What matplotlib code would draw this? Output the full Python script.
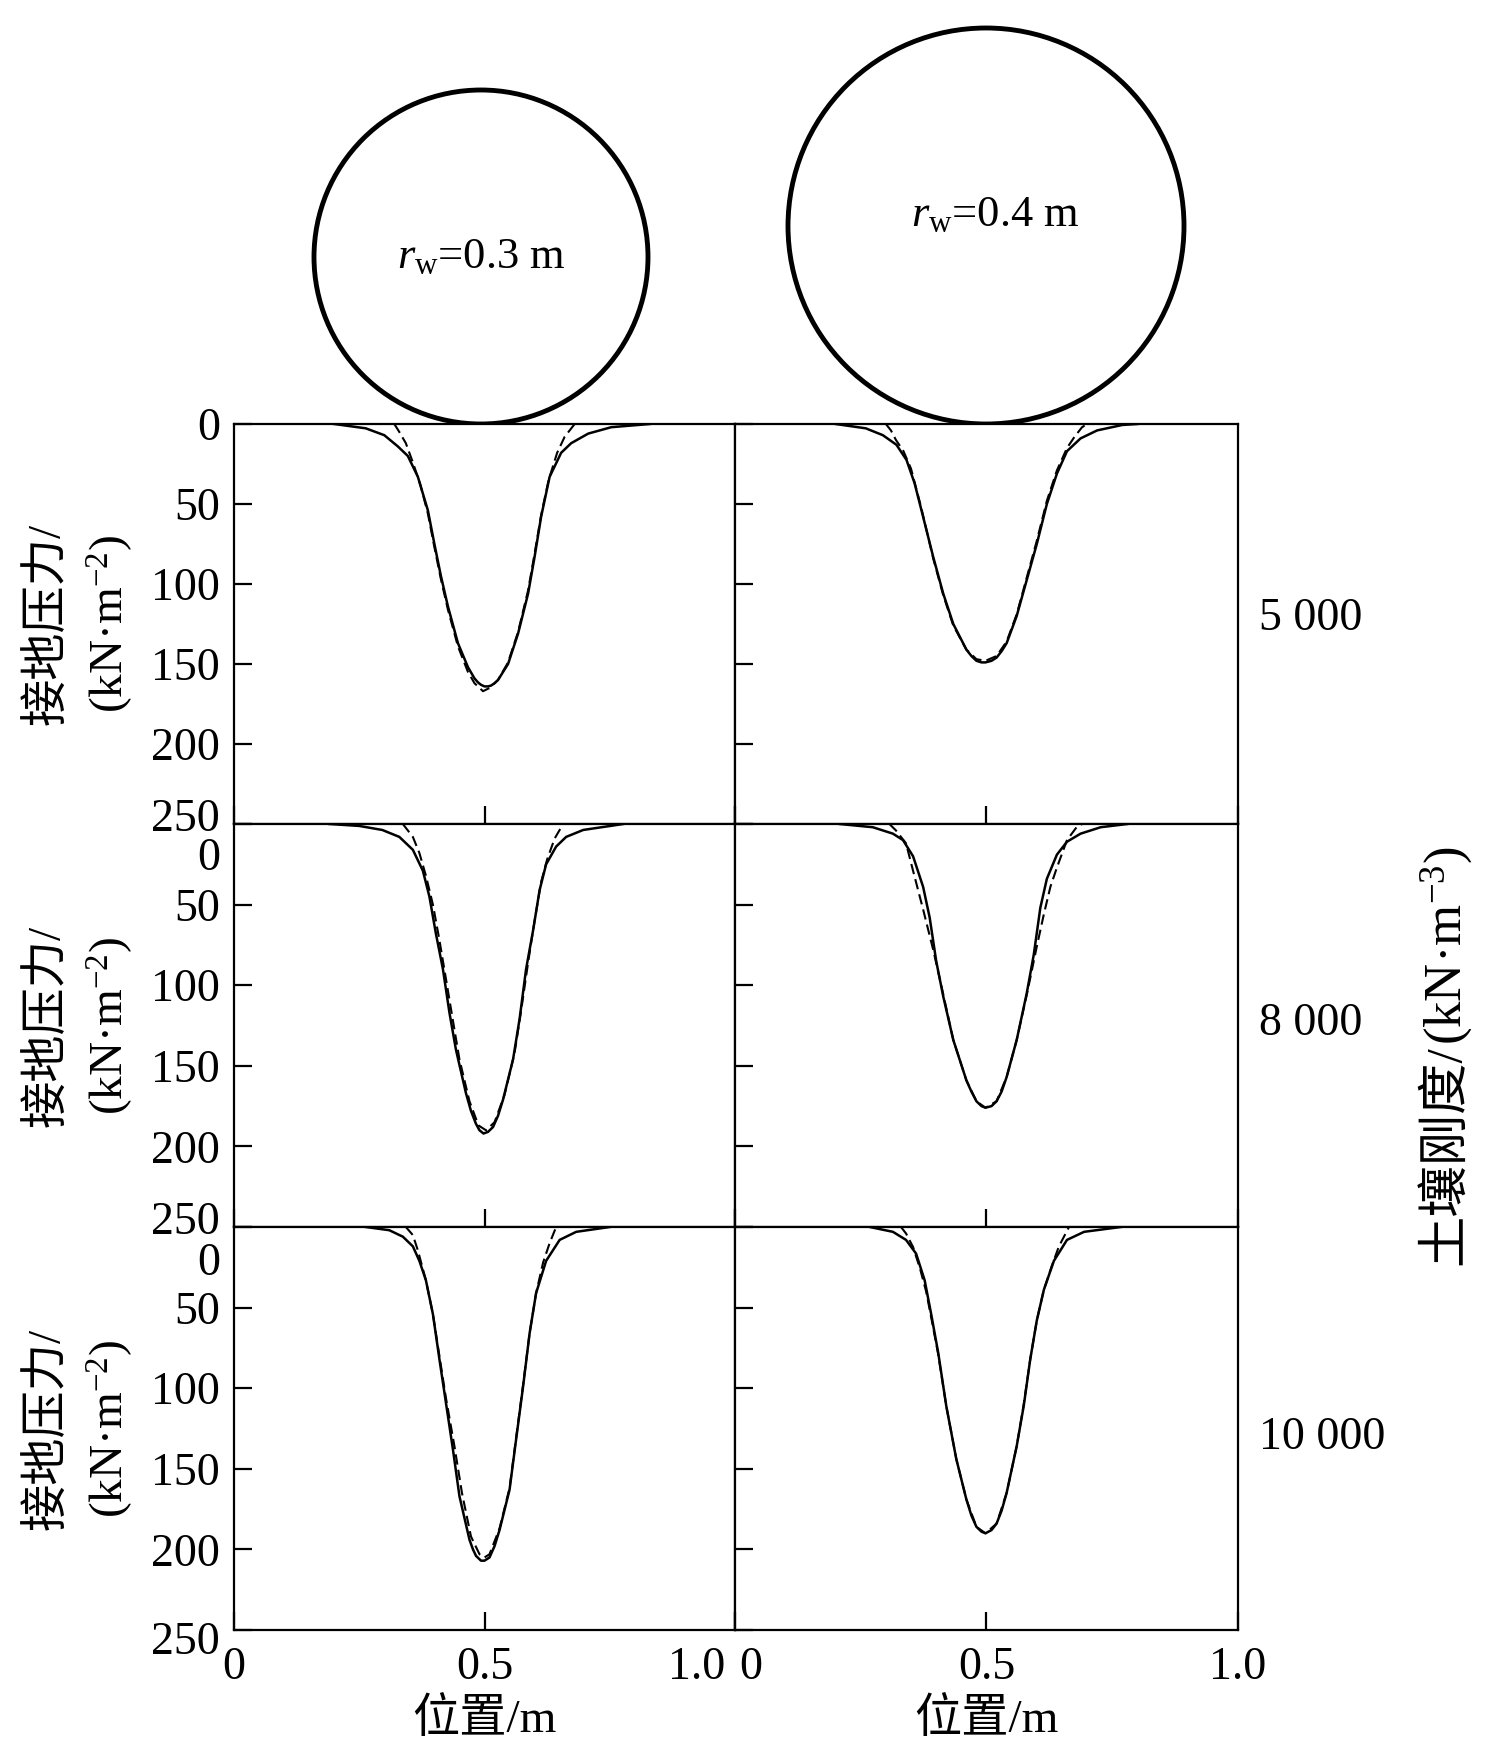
import matplotlib
matplotlib.use('Agg')
import matplotlib.pyplot as plt
from matplotlib.patches import Circle
from matplotlib.transforms import ScaledTranslation

# ---- data (position in m, contact pressure in kN/m^2) ----
wheel_radius = [0.3, 0.4]
stiffness_labels = ['5 000', '8 000', '10 000']
y_ticks = [0, 50, 100, 150, 200, 250]
x_ticks = [0, 0.5, 1.0]

# k = 5 000, r = 0.3
k5000_r03_x = [0.20, 0.263, 0.30, 0.327, 0.347, 0.367, 0.387, 0.40, 0.413, 0.427, 0.447, 0.467, 0.48, 0.487, 0.493,
               0.50, 0.507, 0.513, 0.52, 0.527, 0.547, 0.567, 0.587, 0.60, 0.613, 0.63, 0.653, 0.673, 0.707, 0.753, 0.83]
k5000_r03_solid = [0, 2.7, 7, 14, 20, 33, 54, 75, 95, 114, 137, 152, 159, 161.5, 163,
                   164, 164, 163.5, 162, 160, 150, 131, 106, 83, 58, 33, 18, 12, 6, 2, 0]
k5000_r03_dx = [0.32, 0.33, 0.343, 0.357, 0.372, 0.387, 0.40, 0.413, 0.427, 0.447, 0.467, 0.48, 0.497,
                0.51, 0.527, 0.547, 0.567, 0.587, 0.60, 0.613, 0.628, 0.645, 0.66, 0.68]
k5000_r03_dashed = [0, 5, 12, 24, 38, 56, 77, 97, 116, 139, 155, 162, 167,
                    165, 160, 149, 130, 104, 81, 57, 35, 18, 8, 0]

# k = 5 000, r = 0.4
k5000_r04_x = [0.20, 0.26, 0.294, 0.321, 0.341, 0.357, 0.374, 0.394, 0.414, 0.434, 0.46, 0.47, 0.48, 0.49, 0.498,
               0.51, 0.52, 0.53, 0.54, 0.56, 0.58, 0.60, 0.62, 0.64, 0.66, 0.687, 0.72, 0.77, 0.80]
k5000_r04_solid = [0, 2.7, 7, 13, 22.5, 37, 58, 83, 106, 125, 141, 145, 148, 149, 149,
                   148, 146, 142, 137, 120, 97.5, 75, 50, 31, 17, 9, 4, 0.6, 0]
k5000_r04_dx = [0.30, 0.31, 0.32, 0.335, 0.35, 0.37, 0.394, 0.414, 0.434, 0.46, 0.48, 0.498,
                0.52, 0.54, 0.56, 0.58, 0.60, 0.62, 0.64, 0.66, 0.675, 0.69, 0.70]
k5000_r04_dashed = [0, 4, 10, 17, 28, 52, 84, 107, 126, 141, 147, 148,
                    145, 136, 119, 96, 73, 48, 29, 15, 8, 2, 0]

# k = 8 000, r = 0.3
k8000_r03_x = [0.19, 0.25, 0.296, 0.33, 0.357, 0.377, 0.39, 0.403, 0.417, 0.43, 0.443, 0.463, 0.473, 0.483, 0.49,
               0.498, 0.507, 0.517, 0.527, 0.537, 0.557, 0.57, 0.583, 0.597, 0.61, 0.623, 0.643, 0.663, 0.697, 0.777]
k8000_r03_solid = [0, 1.2, 3.7, 8, 16, 29, 45, 68, 90, 117, 140, 167, 178, 186, 190,
                   192, 191, 188, 181, 171, 146, 121, 90, 66, 41, 25, 14, 8, 3.7, 0]
k8000_r03_dx = [0.337, 0.357, 0.37, 0.383, 0.397, 0.41, 0.423, 0.437, 0.45, 0.47, 0.488, 0.503,
                0.52, 0.54, 0.56, 0.573, 0.587, 0.60, 0.613, 0.625, 0.64, 0.657]
k8000_r03_dashed = [0, 8, 18, 32, 50, 72, 96, 122, 146, 172, 187, 190,
                    185, 168, 142, 116, 86, 60, 36, 22, 9, 0]

# k = 8 000, r = 0.4
k8000_r04_x = [0.208, 0.274, 0.314, 0.334, 0.354, 0.374, 0.387, 0.40, 0.414, 0.434, 0.46, 0.47, 0.48, 0.49, 0.498,
               0.51, 0.52, 0.53, 0.54, 0.56, 0.58, 0.594, 0.607, 0.62, 0.64, 0.66, 0.687, 0.727, 0.78]
k8000_r04_solid = [0, 2, 6, 10, 20, 39, 58, 85, 107, 134, 159, 166, 172, 175, 176,
                   175, 172, 166, 157, 134, 105, 81, 52, 34, 19, 11, 6, 2, 0]
k8000_r04_dx = [0.307, 0.32, 0.34, 0.354, 0.374, 0.394, 0.41, 0.434, 0.46, 0.48, 0.498,
                0.52, 0.54, 0.56, 0.58, 0.60, 0.614, 0.627, 0.64, 0.66, 0.68, 0.69]
k8000_r04_dashed = [0, 4, 12, 29, 53, 78, 100, 134, 159, 172, 176,
                    172, 157, 134, 106, 76, 56, 39, 27, 10, 1.6, 0]

# k = 10 000, r = 0.3
k10000_r03_x = [0.263, 0.31, 0.337, 0.357, 0.37, 0.383, 0.397, 0.41, 0.423, 0.437, 0.45, 0.47, 0.477, 0.483, 0.493,
                0.50, 0.51, 0.52, 0.53, 0.55, 0.563, 0.577, 0.59, 0.603, 0.623, 0.65, 0.683, 0.75]
k10000_r03_solid = [0, 2, 6, 12, 21, 33, 54, 82, 109, 138, 167, 194, 200, 204, 207,
                    207, 205, 198, 188, 163, 132, 99, 66, 41, 21, 8, 3, 0]
k10000_r03_dx = [0.343, 0.357, 0.367, 0.383, 0.397, 0.41, 0.423, 0.44, 0.455, 0.473, 0.49, 0.50,
                 0.51, 0.53, 0.55, 0.563, 0.577, 0.59, 0.603, 0.617, 0.63, 0.643]
k10000_r03_dashed = [0, 5, 14.5, 33, 54, 80, 106, 136, 165, 192, 203, 205,
                     203, 187, 162, 131, 98, 66, 41, 22, 10, 0]

# k = 10 000, r = 0.4
k10000_r04_x = [0.268, 0.314, 0.34, 0.36, 0.377, 0.39, 0.404, 0.42, 0.44, 0.46, 0.47, 0.48, 0.49, 0.498,
                0.51, 0.52, 0.53, 0.54, 0.56, 0.574, 0.587, 0.60, 0.614, 0.634, 0.66, 0.694, 0.767]
k10000_r04_solid = [0, 3, 8, 16.5, 33, 54, 78, 111, 144, 169, 179, 186, 189, 190,
                    188, 184, 176, 165, 136, 111, 82, 58, 39, 21, 8, 3, 0]
k10000_r04_dx = [0.33, 0.34, 0.354, 0.368, 0.38, 0.39, 0.404, 0.42, 0.44, 0.46, 0.48, 0.498,
                 0.52, 0.54, 0.56, 0.574, 0.587, 0.60, 0.614, 0.63, 0.644, 0.664]
k10000_r04_dashed = [0, 4, 12.4, 26, 40, 56, 79, 111, 144, 169, 186, 190,
                     184, 165, 136, 110, 82, 58, 39, 24, 12, 0]

panels = [
    [(k5000_r03_x, k5000_r03_solid, k5000_r03_dx, k5000_r03_dashed),
     (k5000_r04_x, k5000_r04_solid, k5000_r04_dx, k5000_r04_dashed)],
    [(k8000_r03_x, k8000_r03_solid, k8000_r03_dx, k8000_r03_dashed),
     (k8000_r04_x, k8000_r04_solid, k8000_r04_dx, k8000_r04_dashed)],
    [(k10000_r03_x, k10000_r03_solid, k10000_r03_dx, k10000_r03_dashed),
     (k10000_r04_x, k10000_r04_solid, k10000_r04_dx, k10000_r04_dashed)],
]

# ---- style ----
plt.rcParams['font.family'] = ['Liberation Serif', 'Noto Sans CJK SC']
plt.rcParams['mathtext.fontset'] = 'custom'
plt.rcParams['mathtext.rm'] = 'Liberation Serif'
plt.rcParams['mathtext.it'] = 'Liberation Serif:italic'
plt.rcParams['axes.linewidth'] = 1.6

W, H = 1500, 1755
fig = plt.figure(figsize=(W / 100, H / 100), dpi=100)


def box(x0, y0, x1, y1):
    """pixel box (top-left origin) -> figure fraction rect"""
    return [x0 / W, 1 - y1 / H, (x1 - x0) / W, (y1 - y0) / H]


def shift(label, dx_px, dy_px):
    # dy_px > 0 moves the label up
    label.set_transform(label.get_transform() + ScaledTranslation(dx_px / 100, dy_px / 100, fig.dpi_scale_trans))


col_edges = [(234, 735), (735, 1238)]
row_edges = [(424, 824), (824, 1227), (1227, 1630)]
tick_fs = 33
label_fs = 34

# wheels above the columns
wheel_px = [167, 198]
wheel_cx = [0.493, 0.499]
wheel_text_pos = [(0.493, 0.333), (0.517, 0.416)]
for c, (x0, x1) in enumerate(col_edges):
    tax = fig.add_axes(box(x0, 0, x1, row_edges[0][0]))
    w = x1 - x0
    tax.set_xlim(0, 1)
    tax.set_ylim(0, row_edges[0][0] / w)
    tax.axis('off')
    r = wheel_px[c] / w
    tax.add_patch(Circle((wheel_cx[c], r), r, fill=False, lw=3.5, ec='black', clip_on=False))
    tx, ty = wheel_text_pos[c]
    tax.text(tx, ty, r'$r_{\mathrm{w}}$=%.1f m' % wheel_radius[c], ha='center', va='center', fontsize=32)

# per-label vertical nudges of the left tick labels (px, + = up)
ylabel_nudge = [{250: 9}, {0: -30, 250: 9}, {0: -32, 250: -8}]
stiff_y = [0.512, 0.504, 0.476]

for r, (y0, y1) in enumerate(row_edges):
    for c, (x0, x1) in enumerate(col_edges):
        ax = fig.add_axes(box(x0, y0, x1, y1))
        xs, ys, dxs, dys = panels[r][c]
        ax.plot(xs, ys, color='black', lw=1.8, solid_joinstyle='round')
        ax.plot(dxs, dys, color='black', lw=1.5, ls=(0, (5, 2.5)))
        ax.set_xlim(0, 1)
        ax.set_ylim(250, 0)
        ax.tick_params(direction='in', length=13, width=1.6, top=False, right=False,
                       labelsize=tick_fs, labelleft=(c == 0), labelbottom=(r == 2))
        ax.tick_params(axis='y', pad=10)
        ax.tick_params(axis='x', pad=12)
        ax.set_yticks(y_ticks)
        ax.set_xticks(x_ticks)
        if c == 0:
            ax.set_yticklabels([str(v) for v in y_ticks])
            for lab, v in zip(ax.get_yticklabels(), y_ticks):
                if v in ylabel_nudge[r]:
                    shift(lab, 0, ylabel_nudge[r][v])
        if r == 2:
            ax.set_xticklabels(['0', '0.5', '1.0'])
            labs = ax.get_xticklabels()
            if c == 0:
                labs[2].set_ha('right')
                shift(labs[2], -10, 0)
            else:
                labs[0].set_ha('left')
                shift(labs[0], 4, 0)
            ax.set_xlabel('位置/m', fontsize=label_fs, labelpad=6)
        if c == 1:
            ax.text(1.042, stiff_y[r], stiffness_labels[r], transform=ax.transAxes,
                    ha='left', va='center', fontsize=tick_fs)
        if c == 0:
            yc = 1 - (y0 + y1) / 2 / H
            fig.text(48 / W, yc, '接地压力/', rotation=90, ha='center', va='center', fontsize=label_fs)
            fig.text(110 / W, yc, '(kN·m$^{-2}$)', rotation=90, ha='center', va='center', fontsize=label_fs)

# right-hand title, CJK part then unit part stacked upwards
t1 = fig.text(1447 / W, 1 - 1265 / H, '土壤刚度/', rotation=90, ha='center', va='bottom', fontsize=37)
fig.canvas.draw()
bb = t1.get_window_extent()
fig.text(1447 / W, bb.y1 / H, '(kN·m$^{-3}$)', rotation=90, ha='center', va='bottom', fontsize=38)

plt.savefig('out.png', dpi=100)
plt.close()
